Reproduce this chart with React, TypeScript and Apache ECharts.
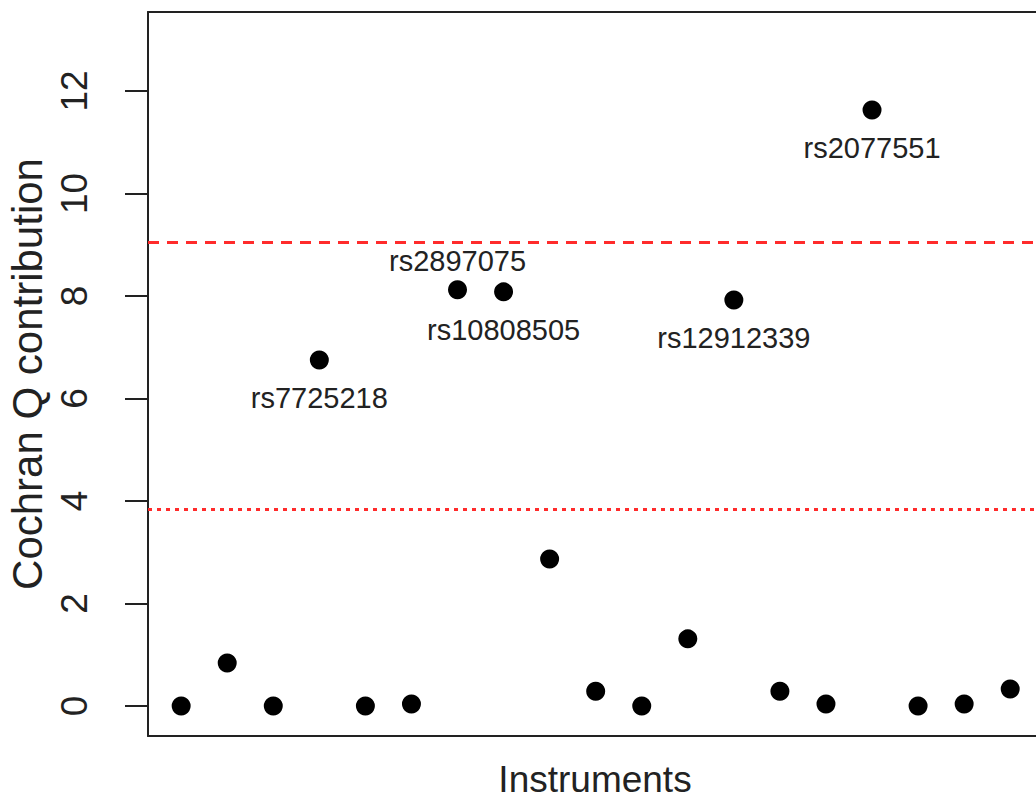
import React, { useEffect, useRef } from "react";
import * as echarts from "echarts";

const instrumentIndex = [1, 2, 3, 4, 5, 6, 7, 8, 9, 10, 11, 12, 13, 14, 15, 16, 17, 18, 19];
const qContribution = [0, 0.84, 0, 6.75, 0, 0.04, 8.12, 8.08, 2.87, 0.29, 0, 1.31, 7.92, 0.29, 0.04, 11.63, 0, 0.04, 0.33];
const snpLabels = ["", "", "", "rs7725218", "", "", "rs2897075", "rs10808505", "", "", "", "", "rs12912339", "", "", "rs2077551", "", "", ""];
const labelSide = ["", "", "", "bottom", "", "", "top", "bottom", "", "", "", "", "bottom", "", "", "bottom", "", "", ""];
const yTicks = [0, 2, 4, 6, 8, 10, 12];
const thresholdDashed = 9.04;
const thresholdDotted = 3.84;

const FONT = "'Liberation Sans', Arial, sans-serif";
const INK = "#222";

export default function App() {
  const ref = useRef<HTMLDivElement>(null);
  useEffect(() => {
    document.body.style.margin = "0";
    document.body.style.overflow = "hidden";
    const chart = echarts.init(ref.current!, null, { renderer: "svg" });
    const data = instrumentIndex.map((x, i) => {
      const item: any = { value: [x, qContribution[i]], name: snpLabels[i] };
      if (snpLabels[i]) {
        item.label = {
          show: true,
          position: labelSide[i],
          distance: labelSide[i] === "top" ? 5 : 14,
          formatter: "{b}",
          fontFamily: FONT,
          fontSize: 29,
          color: INK,
        };
      }
      return item;
    });
    const frameLine = { show: true, onZero: false, lineStyle: { color: INK, width: 2 } };
    chart.setOption({
      animation: false,
      backgroundColor: "#fff",
      grid: { left: 148, top: 12, right: 0, bottom: 69, outerBoundsMode: "none", containLabel: false },
      xAxis: [
        {
          type: "value",
          position: "bottom",
          min: 0.28,
          max: 19.56,
          name: "Instruments",
          nameLocation: "middle",
          nameGap: 25,
          nameTextStyle: { fontFamily: FONT, fontSize: 37, color: INK, verticalAlign: "top", padding: [0, 0, 0, 6] },
          axisLine: frameLine,
          axisTick: { show: false },
          axisLabel: { show: false },
          splitLine: { show: false },
        },
        {
          type: "value",
          position: "top",
          min: 0.28,
          max: 19.56,
          axisLine: frameLine,
          axisTick: { show: false },
          axisLabel: { show: false },
          splitLine: { show: false },
        },
      ],
      yAxis: {
        type: "value",
        min: -0.585,
        max: 13.54,
        name: "Cochran Q contribution",
        nameLocation: "middle",
        nameGap: 91,
        nameTextStyle: { fontFamily: FONT, fontSize: 42, color: INK },
        axisLine: frameLine,
        axisTick: {
          show: true,
          length: 23,
          lineStyle: { color: INK, width: 2 },
          customValues: yTicks,
        },
        axisLabel: {
          show: true,
          rotate: 90,
          margin: 55,
          fontFamily: FONT,
          fontSize: 37,
          color: INK,
          customValues: yTicks,
        },
        splitLine: { show: false },
      },
      series: [
        {
          type: "scatter",
          xAxisIndex: 0,
          data,
          symbol: "circle",
          symbolSize: 19,
          itemStyle: { color: "#000", opacity: 1 },
          label: { show: false },
          markLine: {
            silent: true,
            symbol: "none",
            label: { show: false },
            data: [
              { yAxis: thresholdDashed, lineStyle: { color: "#ff2b2b", width: 3, type: [11, 8], opacity: 1 } },
              { yAxis: thresholdDotted, lineStyle: { color: "#ff2b2b", width: 3, type: [4, 5], opacity: 1 } },
            ],
          },
        },
      ],
    });
    return () => chart.dispose();
  }, []);
  return <div ref={ref} style={{ width: 1036, height: 805 }} />;
}
